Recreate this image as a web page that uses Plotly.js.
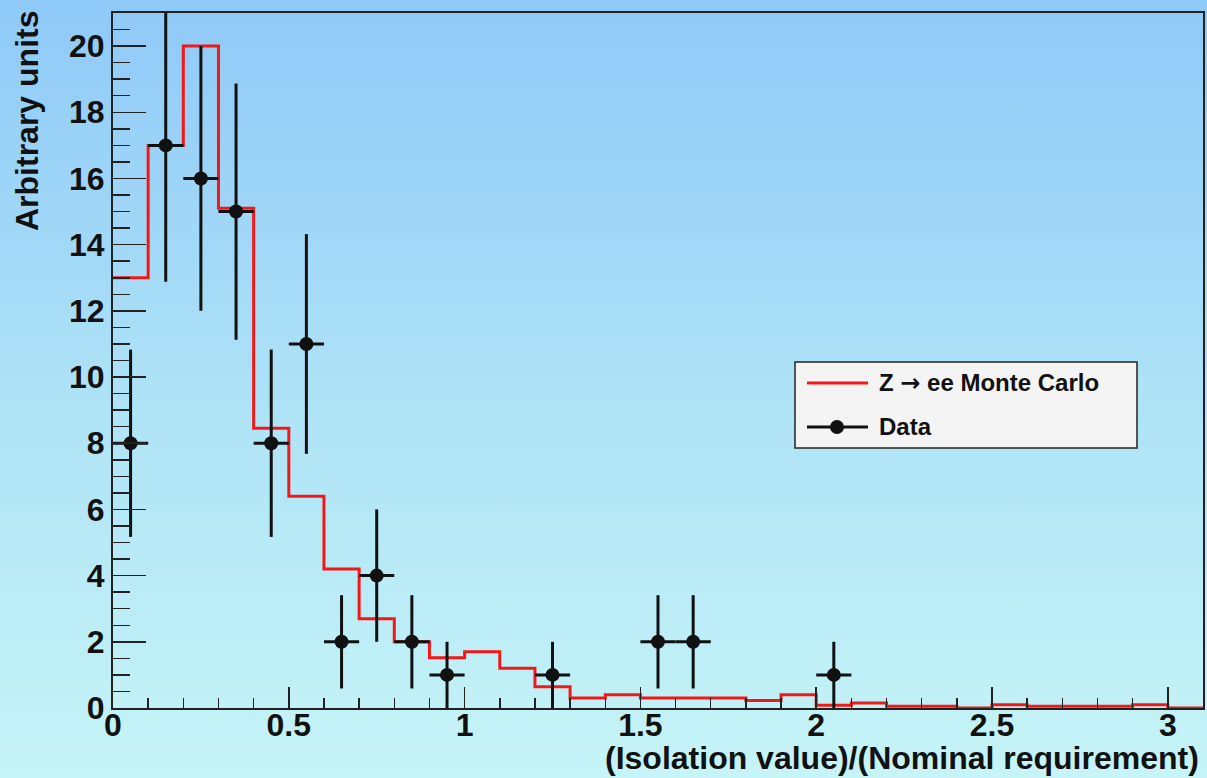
<!DOCTYPE html>
<html>
<head>
<meta charset="utf-8">
<script src="https://cdn.plot.ly/plotly-3.0.1.min.js"></script>
<style>
  html, body { margin: 0; padding: 0; }
  body {
    width: 1207px; height: 778px; overflow: hidden;
    background: linear-gradient(to bottom, #8fc9f8 0%, #b0e4f6 55%, #c6f4f7 100%);
  }
  #chart { width: 1207px; height: 778px; }
</style>
</head>
<body>
<div id="chart"></div>
<script>
// Monte Carlo histogram: low edges of 0.1-wide bins and their contents
const binWidth = 0.1;
const mcLowEdges = [0.0, 0.1, 0.2, 0.3, 0.4, 0.5, 0.6, 0.7, 0.8, 0.9,
                    1.0, 1.1, 1.2, 1.3, 1.4, 1.5, 1.6, 1.7, 1.8, 1.9,
                    2.0, 2.1, 2.2, 2.3, 2.4, 2.5, 2.6, 2.7, 2.8, 2.9, 3.0];
const mcValues = [13.0, 17.0, 20.0, 15.1, 8.45, 6.4, 4.2, 2.7, 2.0, 1.52,
                  1.7, 1.2, 0.64, 0.3, 0.4, 0.3, 0.3, 0.3, 0.23, 0.4,
                  0.08, 0.15, 0.05, 0.05, 0.0, 0.1, 0.05, 0.05, 0.05, 0.1, 0.0];
const mcUpperEdge = 3.1;

// Data: bin centres, counts and their errors
const dataX = [0.05, 0.15, 0.25, 0.35, 0.45, 0.55, 0.65, 0.75, 0.85, 0.95, 1.25, 1.55, 1.65, 2.05];
const dataY = [8, 17, 16, 15, 8, 11, 2, 4, 2, 1, 1, 2, 2, 1];
const dataErr = [2.83, 4.12, 4.0, 3.87, 2.83, 3.32, 1.41, 2.0, 1.41, 1.0, 1.0, 1.41, 1.41, 1.0];

const xTitle = '(Isolation value)/(Nominal requirement)';
const yTitle = 'Arbitrary units';
const legendLabels = ['Z <span style="font-family:DejaVu Sans">\u2192</span> ee Monte Carlo', 'Data'];

const FONT = 'Liberation Sans, Arial, Helvetica, sans-serif';
const RED = 'rgb(242,24,24)';
const INK = '#111';

// step outline: repeat the last content at the upper edge so the final bin is closed
const mcX = mcLowEdges.concat([mcUpperEdge]);
const mcY = mcValues.concat([mcValues[mcValues.length - 1]]);

const traces = [
  {
    type: 'scatter', mode: 'lines',
    x: mcX, y: mcY,
    line: { shape: 'hv', color: RED, width: 3 },
    showlegend: false, hoverinfo: 'skip'
  },
  {
    type: 'scatter', mode: 'markers',
    x: dataX, y: dataY,
    marker: { color: INK, size: 14 },
    error_y: { type: 'data', array: dataErr, color: INK, thickness: 3, width: 0 },
    error_x: { type: 'constant', value: binWidth / 2, color: INK, thickness: 3, width: 0 },
    showlegend: false
  }
];

// plot-area pixel geometry helpers for the hand-drawn legend box
const L = 113, T = 13, W = 1090, H = 695;
const px = x => (x - L) / W;
const py = y => (T + H - y) / H;

const shapes = [
  { type: 'rect', xref: 'paper', yref: 'paper',
    x0: px(795), x1: px(1137), y0: py(448), y1: py(362),
    fillcolor: '#f4f4f4', line: { color: '#222', width: 1.5 } },
  { type: 'line', xref: 'paper', yref: 'paper',
    x0: px(807), x1: px(868), y0: py(383), y1: py(383),
    line: { color: RED, width: 3 } },
  { type: 'line', xref: 'paper', yref: 'paper',
    x0: px(807), x1: px(868), y0: py(427), y1: py(427),
    line: { color: INK, width: 3 } },
  { type: 'circle', xref: 'paper', yref: 'paper',
    x0: px(830), x1: px(844), y0: py(434), y1: py(420),
    fillcolor: INK, line: { color: INK, width: 0 } }
];

const annotations = [
  { xref: 'paper', yref: 'paper', x: px(877), y: py(383), xanchor: 'left', yanchor: 'middle',
    text: legendLabels[0], showarrow: false,
    font: { family: FONT, size: 24, weight: 'bold', color: INK } },
  { xref: 'paper', yref: 'paper', x: px(877), y: py(427), xanchor: 'left', yanchor: 'middle',
    text: legendLabels[1], showarrow: false,
    font: { family: FONT, size: 24, weight: 'bold', color: INK } },
  { xref: 'paper', yref: 'paper', x: px(1201), y: py(758), xanchor: 'right', yanchor: 'middle',
    text: xTitle, showarrow: false,
    font: { family: FONT, size: 32, weight: 'bold', color: INK } },
  { xref: 'paper', yref: 'paper', x: px(27), y: py(121), xanchor: 'center', yanchor: 'middle',
    textangle: -90, text: yTitle, showarrow: false,
    font: { family: FONT, size: 32, weight: 'bold', color: INK } }
];

const tickFont = { family: FONT, size: 32, weight: 'bold', color: INK };

const layout = {
  width: 1207, height: 778,
  margin: { l: L, r: 1207 - L - W, t: T, b: 778 - T - H, pad: 0 },
  paper_bgcolor: 'rgba(0,0,0,0)',
  plot_bgcolor: 'rgba(0,0,0,0)',
  showlegend: false,
  xaxis: {
    range: [0, 3.1], tick0: 0, dtick: 0.5,
    ticks: 'inside', ticklen: 21, tickwidth: 1.5, tickcolor: '#222',
    showline: true, linecolor: '#222', linewidth: 2, mirror: true,
    showgrid: false, zeroline: false,
    tickfont: tickFont, ticklabelstandoff: -12,
    minor: { dtick: 0.1, tick0: 0, ticks: 'inside', ticklen: 10, tickwidth: 1.5, tickcolor: '#222', showgrid: false }
  },
  yaxis: {
    range: [0, 21], tick0: 0, dtick: 2,
    ticks: 'inside', ticklen: 33, tickwidth: 1.5, tickcolor: '#222',
    showline: true, linecolor: '#222', linewidth: 2, mirror: true,
    showgrid: false, zeroline: false,
    tickfont: tickFont, ticklabelstandoff: 0,
    minor: { dtick: 0.5, tick0: 0, ticks: 'inside', ticklen: 17, tickwidth: 1.5, tickcolor: '#222', showgrid: false }
  },
  shapes: shapes,
  annotations: annotations
};

Plotly.newPlot('chart', traces, layout, { displayModeBar: false, staticPlot: true });
</script>
</body>
</html>
